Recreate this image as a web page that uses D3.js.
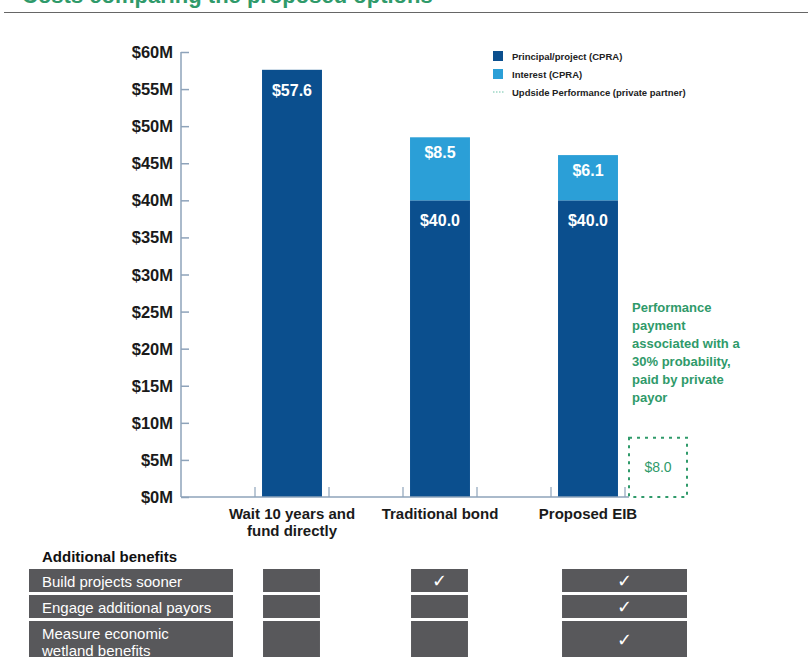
<!DOCTYPE html>
<html>
<head>
<meta charset="utf-8">
<script src="https://cdn.jsdelivr.net/npm/d3@7"></script>
<style>
  body { margin: 0; background: #fff; }
  svg { display: block; }
</style>
</head>
<body>
<div id="chart"></div>
<script>
// 1: DATA
const categories = ["Wait 10 years and\nfund directly", "Traditional bond", "Proposed EIB"];
const principal = [57.6, 40.0, 40.0];
const interest = [0, 8.5, 6.1];
const upside = 8.0;
const yTicks = [0, 5, 10, 15, 20, 25, 30, 35, 40, 45, 50, 55, 60];
const legendItems = ["Principal/project (CPRA)", "Interest (CPRA)", "Updside Performance (private partner)"];
const noteLines = ["Performance", "payment", "associated with a", "30% probability,", "paid by private", "payor"];
const benefits = [["Build projects sooner"], ["Engage additional payors"], ["Measure economic", "wetland benefits"]];
const checks = [[false, true, true], [false, false, true], [false, false, true]];

const W = 811, H = 657;
const darkBlue = "#0b4f8e", lightBlue = "#2b9fd7", green = "#2f9a6a", axisCol = "#8ea3ba", gray = "#58585b";
const narrow = "'Liberation Sans Narrow', 'Arial Narrow', sans-serif";
const sans = "'Liberation Sans', Arial, sans-serif";

const svg = d3.select("#chart").append("svg")
    .attr("width", W).attr("height", H);

// Title (cropped at top of page)
svg.append("text")
    .attr("x", 22).attr("y", 3)
    .attr("fill", green)
    .style("font-family", sans).style("font-weight", "bold").style("font-size", "22px")
    .text("Costs comparing the proposed options");
svg.append("line")
    .attr("x1", 4).attr("x2", 808).attr("y1", 12.5).attr("y2", 12.5)
    .attr("stroke", "#666").attr("stroke-width", 1.2);

// Scales
const yScale = d3.scaleLinear().domain([0, 60]).range([497, 52]);
const xScale = d3.scaleBand().domain(categories).range([218, 662]).paddingInner(0.595).paddingOuter(0.2975);
const step = xScale.step();
const bw = xScale.bandwidth();
const cx = c => xScale(c) + bw / 2;

// Y axis
const yAxis = svg.append("g")
    .attr("transform", "translate(181,0)")
    .call(d3.axisRight(yScale).tickValues(yTicks).tickSize(8).tickFormat(""));
yAxis.select(".domain").attr("stroke", axisCol).attr("stroke-width", 1.5).attr("d", `M0,${yScale(60)}H0V${yScale(0)}`);
yAxis.selectAll(".tick line").attr("stroke", axisCol).attr("stroke-width", 1.5);

svg.selectAll(".ylab").data(yTicks).enter().append("text")
    .attr("class", "ylab")
    .attr("x", 173).attr("y", d => yScale(d) + 6)
    .attr("text-anchor", "end")
    .style("font-family", sans).style("font-weight", "bold").style("font-size", "16.5px")
    .attr("fill", "#1a1a1a")
    .text(d => "$" + d + "M");

// Bars
categories.forEach((c, i) => {
    svg.append("rect")
        .attr("x", xScale(c)).attr("width", bw)
        .attr("y", yScale(principal[i])).attr("height", yScale(0) - yScale(principal[i]))
        .attr("fill", darkBlue);
    if (interest[i] > 0) {
        svg.append("rect")
            .attr("x", xScale(c)).attr("width", bw)
            .attr("y", yScale(principal[i] + interest[i])).attr("height", yScale(principal[i]) - yScale(principal[i] + interest[i]))
            .attr("fill", lightBlue);
        svg.append("text")
            .attr("x", cx(c)).attr("y", yScale(principal[i] + interest[i]) + 21)
            .attr("text-anchor", "middle").attr("fill", "#fff")
            .style("font-family", sans).style("font-weight", "bold").style("font-size", "16px")
            .text("$" + interest[i].toFixed(1));
    }
    svg.append("text")
        .attr("x", cx(c)).attr("y", yScale(principal[i]) + 26)
        .attr("text-anchor", "middle").attr("fill", "#fff")
        .style("font-family", sans).style("font-weight", "bold").style("font-size", "16px")
        .text("$" + principal[i].toFixed(1));
});

// X axis
const xRight = cx(categories[2]) + step / 4 + 4;
svg.append("line")
    .attr("x1", 181).attr("x2", xRight).attr("y1", 497).attr("y2", 497)
    .attr("stroke", axisCol).attr("stroke-width", 1.5);
categories.forEach(c => {
    [cx(c) - step / 4, cx(c) + step / 4].forEach(tx => {
        svg.append("line")
            .attr("x1", tx).attr("x2", tx).attr("y1", 487).attr("y2", 497)
            .attr("stroke", axisCol).attr("stroke-width", 1.2);
    });
    c.split("\n").forEach((t, k) => {
        svg.append("text")
            .attr("x", cx(c)).attr("y", 519 + k * 17)
            .attr("text-anchor", "middle").attr("fill", "#1a1a1a")
            .style("font-family", narrow).style("font-weight", "bold").style("font-size", "15px")
            .text(t);
    });
});

// Upside performance box
const boxX = xRight, boxW = 58;
svg.append("rect")
    .attr("x", boxX).attr("width", boxW)
    .attr("y", yScale(upside)).attr("height", yScale(0) - yScale(upside))
    .attr("fill", "none").attr("stroke", green).attr("stroke-width", 2)
    .attr("stroke-dasharray", "3,5");
svg.append("text")
    .attr("x", boxX + boxW / 2).attr("y", yScale(upside / 2) + 5)
    .attr("text-anchor", "middle").attr("fill", green)
    .style("font-family", narrow).style("font-size", "14px")
    .text("$" + upside.toFixed(1));

noteLines.forEach((t, k) => {
    svg.append("text")
        .attr("x", boxX + 3).attr("y", 312 + k * 18)
        .attr("fill", green)
        .style("font-family", sans).style("font-weight", "bold").style("font-size", "13px")
        .text(t);
});

// Legend
const legend = svg.selectAll(".legend").data(legendItems).enter().append("g")
    .attr("class", "legend")
    .attr("transform", (d, i) => `translate(493, ${51 + i * 18})`);
legend.filter((d, i) => i < 2).append("rect")
    .attr("width", 10).attr("height", 10)
    .attr("fill", (d, i) => i === 0 ? darkBlue : lightBlue);
legend.filter((d, i) => i === 2).append("line")
    .attr("x1", 0).attr("x2", 12).attr("y1", 5).attr("y2", 5)
    .attr("stroke", "#6cc3a8").attr("stroke-width", 1).attr("stroke-dasharray", "1.5,1.5");
legend.append("text")
    .attr("x", 19).attr("y", 8.5)
    .style("font-family", sans).style("font-weight", "bold").style("font-size", "9.5px")
    .attr("fill", "#222")
    .text(d => d);

// Additional benefits table
svg.append("text")
    .attr("x", 42).attr("y", 562)
    .style("font-family", narrow).style("font-weight", "bold").style("font-size", "15px")
    .attr("fill", "#111")
    .text("Additional benefits");

const rowTop = [569, 595, 621];
const rowH = [23, 23, 40];
const colSpans = [
    [xScale(categories[0]) + 1, xScale(categories[0]) + bw - 2],
    [xScale(categories[1]) + 1, xScale(categories[1]) + bw - 2],
    [xScale(categories[2]) + 4, boxX + boxW]
];
benefits.forEach((lines, r) => {
    svg.append("rect")
        .attr("x", 29).attr("width", 204)
        .attr("y", rowTop[r]).attr("height", rowH[r])
        .attr("fill", gray);
    lines.forEach((t, k) => {
        svg.append("text")
            .attr("x", 42).attr("y", rowTop[r] + 18 + k * 17)
            .attr("fill", "#fff")
            .style("font-family", narrow).style("font-size", "15px")
            .text(t);
    });
    colSpans.forEach((s, j) => {
        svg.append("rect")
            .attr("x", s[0]).attr("width", s[1] - s[0])
            .attr("y", rowTop[r]).attr("height", rowH[r])
            .attr("fill", gray);
        if (checks[r][j]) {
            svg.append("text")
                .attr("x", (s[0] + s[1]) / 2).attr("y", rowTop[r] + (r === 2 ? 25 : 18))
                .attr("text-anchor", "middle").attr("fill", "#fff")
                .style("font-family", "'DejaVu Sans', sans-serif").style("font-weight", "bold").style("font-size", "18px")
                .text("\u2713");
        }
    });
});
</script>
</body>
</html>
